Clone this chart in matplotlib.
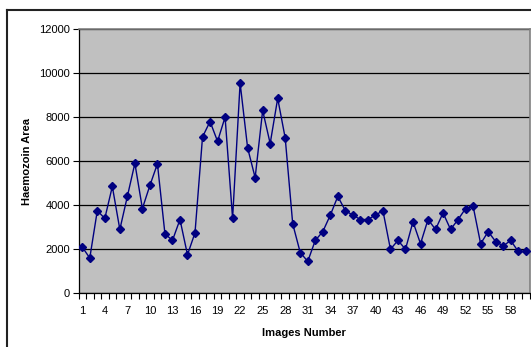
import numpy as np
import matplotlib
matplotlib.use("Agg")
import matplotlib.pyplot as plt
from matplotlib.lines import Line2D

# haemozoin area per image
images = np.arange(1, 61)
area = [2100, 1600, 3750, 3400, 4850, 2900, 4400, 5900, 3850, 4900,
        5880, 2700, 2400, 3350, 1750, 2750, 7100, 7800, 6900, 8000,
        3400, 9550, 6600, 5250, 8300, 6800, 8850, 7050, 3150, 1850,
        1450, 2400, 2800, 3550, 4400, 3750, 3550, 3350, 3350, 3550,
        3750, 2000, 2400, 2000, 3250, 2250, 3350, 2900, 3650, 2900,
        3350, 3850, 3950, 2250, 2800, 2350, 2150, 2400, 1900, 1900]
yticks = [0, 2000, 4000, 6000, 8000, 10000, 12000]
xlabels = list(range(1, 61, 3))

plt.rcParams['font.family'] = ['Liberation Sans', 'DejaVu Sans']

W, H = 531, 347
fig = plt.figure(figsize=(W / 100, H / 100), dpi=100)
ax = fig.add_axes([78.5 / W, (H - 293.3) / H, 451 / W, 264.3 / H])

ax.set_facecolor('#C0C0C0')
ax.plot(images, area, color='#000080', lw=1, marker='D', ms=3.6,
        mfc='#000080', mec='#000080', zorder=3)

ax.set_xlim(0.5, 60.5)
ax.set_ylim(0, 12000)
ax.set_yticks(yticks)
ax.yaxis.grid(True, color='black', lw=0.9)
ax.set_axisbelow(True)

# category axis: ticks between categories, labels every 3rd one
ax.set_xticks(xlabels)
ax.set_xticklabels([str(v) for v in xlabels])
ax.set_xticks(np.arange(0.5, 61, 1), minor=True)
ax.tick_params(axis='x', which='major', length=0, pad=9, labelsize=8)
ax.tick_params(axis='x', which='minor', length=4, width=0.8, direction='out')
ax.tick_params(axis='y', length=4, width=0.8, pad=2, labelsize=8)

for s in ['top', 'right']:
    ax.spines[s].set_color('#808080')
    ax.spines[s].set_linewidth(1.2)
for s in ['left', 'bottom']:
    ax.spines[s].set_color('black')
    ax.spines[s].set_linewidth(0.9)

ax.set_xlabel('Images Number', fontsize=8, fontweight='bold', labelpad=9)
ax.set_ylabel('Haemozoin Area', fontsize=8, fontweight='bold', labelpad=5)

# outer chart frame (only left and top edges visible)
fig.add_artist(Line2D([7 / W, 1], [1 - 10 / H, 1 - 10 / H], color='#222222', lw=1.5))
fig.add_artist(Line2D([7 / W, 7 / W], [0, 1 - 10 / H], color='#222222', lw=1.5))

fig.savefig('out.png', dpi=100)
